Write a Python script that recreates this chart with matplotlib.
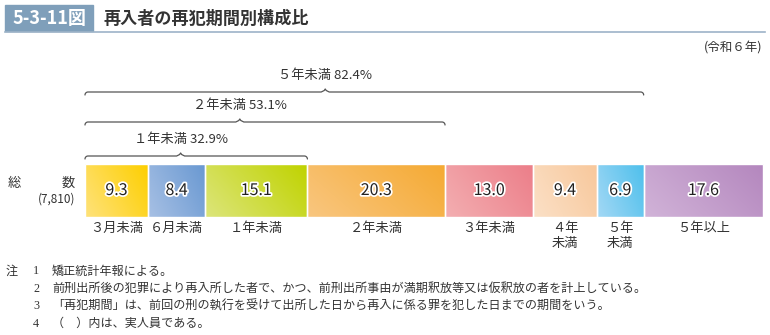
import matplotlib
matplotlib.use("Agg")
import matplotlib.pyplot as plt
import matplotlib.patheffects as pe
from matplotlib.colors import LinearSegmentedColormap
import numpy as np

plt.rcParams['font.family'] = ['Noto Sans CJK JP', 'DejaVu Sans']

# ---- data ----
categories = ["３月未満", "６月未満", "１年未満", "２年未満", "３年未満", "４年\n未満", "５年\n未満", "５年以上"]
shares = [9.3, 8.4, 15.1, 20.3, 13.0, 9.4, 6.9, 17.6]
total_label = "(7,810)"
cumulative_groups = ["１年未満", "２年未満", "５年未満"]
cumulative_counts = [3, 4, 7]          # number of leading categories in each group
cumulative_values = [32.9, 53.1, 82.4]

# light (top-left) / dark (bottom-right) colours for each segment
light_cols = ["#FFE27A", "#A7C0E4", "#DCE57A", "#F9C67F", "#F3AEB1", "#FBE0C6", "#A3D8F5", "#D1B3D8"]
dark_cols = ["#FDCF00", "#6A99D2", "#C0D300", "#F5AA33", "#EC7E89", "#F8C89C", "#4FC0EC", "#B487BE"]

W, H = 770, 335
fig = plt.figure(figsize=(W / 100, H / 100), dpi=100)

# overlay axes in pixel coordinates for free text
ov = fig.add_axes([0, 0, 1, 1])
ov.set_xlim(0, W)
ov.set_ylim(H, 0)
ov.axis("off")

# ---- title ----
ov.add_patch(plt.Rectangle((5, 5), 88, 26, color="#7F9FBA", zorder=1))
ov.text(49, 18.5, "5-3-11図", color="white", fontsize=13, fontweight="bold",
        ha="center", va="center")
ov.text(103, 18.5, "再入者の再犯期間別構成比", color="#333333", fontsize=12.3,
        fontweight="bold", ha="left", va="center")
ov.plot([5, 765], [32, 32], color="#9DB3C8", lw=1.2)
ov.text(762, 48, "(令和６年)", fontsize=9, ha="right", va="center", color="#333333")

# ---- bar axes (x in percent, padded so image edges stay inside) ----
bx0, bx1 = 85, 763
by0, by1 = 164, 217
pad = 2.0
ax_l = bx0 - pad * (bx1 - bx0) / 100
ax_r = bx1 + pad * (bx1 - bx0) / 100
ax = fig.add_axes([ax_l / W, 1 - (by1 + 2) / H, (ax_r - ax_l) / W, (by1 - by0 + 4) / H])
ax.axis("off")

left = 0.0
lefts = []
for val, c1, c2 in zip(shares, light_cols, dark_cols):
    lefts.append(left)
    cmap = LinearSegmentedColormap.from_list("g", [c1, c2])
    nx, ny = 60, 20
    gx = np.linspace(0, 1, nx)[None, :]
    gy = np.linspace(0, 1, ny)[:, None]
    grad = 0.7 * gx + 0.3 * gy
    ax.imshow(grad, cmap=cmap, extent=(left, left + val, 1, 0), aspect="auto",
              interpolation="bilinear", zorder=1)
    ax.add_patch(plt.Rectangle((left, 0), val, 1, fill=False, ec="white", lw=1.0, zorder=2))
    ax.text(left + val / 2, 0.5, f"{val:.1f}", ha="center", va="center", fontsize=11.5,
            color="#222222", zorder=3,
            path_effects=[pe.withStroke(linewidth=2.5, foreground="white")])
    left += val
ax.set_xlim(-pad, 100 + pad)
ax.set_ylim(-2 / 53, 1 + 2 / 53)

# ---- category labels below bar ----
def px(v):
    return bx0 + v / 100 * (bx1 - bx0)

for cat, l, val in zip(categories, lefts, shares):
    ov.text(px(l + val / 2), 222, cat, ha="center", va="top", fontsize=9.5,
            color="#333333", linespacing=1.15)

# ---- left label ----
ov.text(8, 183, "総", fontsize=9.5, ha="left", va="center", color="#333333")
ov.text(75, 183, "数", fontsize=9.5, ha="right", va="center", color="#333333")
ov.text(75, 199, total_label, fontsize=8.5, ha="right", va="center", color="#333333")

# ---- cumulative braces ----
brace_y = [156, 122, 92]
label_y = [139, 106, 75]
for name, n, val, yb, yl in zip(cumulative_groups, cumulative_counts, cumulative_values, brace_y, label_y):
    xs = px(0)
    xe = px(sum(shares[:n]))
    xm = xs + 0.43 * (xe - xs)
    r = 3
    t = np.linspace(0, np.pi / 2, 10)
    # left end curl
    lx = xs + r - r * np.cos(t)
    ly = yb + r - r * np.sin(t)
    # right end curl
    rx = xe - r + r * np.cos(t[::-1])
    ry = yb + r - r * np.sin(t[::-1])
    # middle tip
    mx = [xm - 4, xm - 1, xm, xm + 1, xm + 4]
    my = [yb, yb - 1.5, yb - 3, yb - 1.5, yb]
    X = np.concatenate([lx, mx, rx])
    Y = np.concatenate([ly, my, ry])
    ov.plot(X, Y, color="#555555", lw=0.9, solid_capstyle="round")
    ov.text(xm, yl, f"{name} {val:.1f}%", ha="center", va="center", fontsize=9.5, color="#333333")

# ---- notes ----
notes = [
    ("注", "1", "矯正統計年報による。"),
    ("", "2", "前刑出所後の犯罪により再入所した者で、かつ、前刑出所事由が満期釈放等又は仮釈放の者を計上している。"),
    ("", "3", "「再犯期間」は、前回の刑の執行を受けて出所した日から再入に係る罪を犯した日までの期間をいう。"),
    ("", "4", "（　）内は、実人員である。"),
]
for i, (a, b, c) in enumerate(notes):
    y = 271 + i * 17.6
    if a:
        ov.text(6, y, a, fontsize=8.7, ha="left", va="center", color="#333333")
    ov.text(36, y, b, fontsize=8.7, ha="center", va="center", color="#333333",
            family=["Liberation Serif", "DejaVu Serif"])
    ov.text(52, y, c, fontsize=8.7, ha="left", va="center", color="#333333")

fig.savefig("out.png", dpi=100)
